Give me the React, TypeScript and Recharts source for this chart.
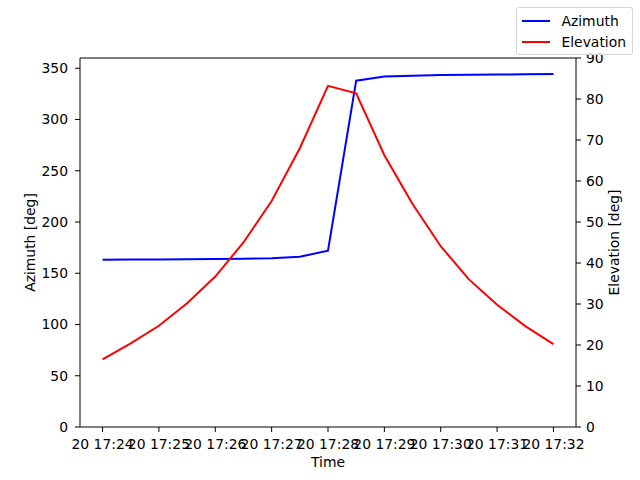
import { LineChart, Line, XAxis, YAxis, Legend, Label, ReferenceLine } from 'recharts';

// samples every 30 s, 17:24:00 .. 17:32:00 on day 20
const times = [
  '17:24:00', '17:24:30', '17:25:00', '17:25:30', '17:26:00', '17:26:30',
  '17:27:00', '17:27:30', '17:28:00', '17:28:30', '17:29:00', '17:29:30',
  '17:30:00', '17:30:30', '17:31:00', '17:31:30', '17:32:00',
];
const azimuth = [
  163.2, 163.3, 163.5, 163.7, 163.9, 164.2, 164.7, 166.1, 172.0,
  337.9, 342.0, 342.7, 343.3, 343.6, 343.9, 344.1, 344.4,
];
const elevation = [
  16.5, 20.4, 24.7, 30.2, 36.7, 45.0, 55.1, 68.0, 83.2,
  81.4, 66.3, 54.4, 44.1, 36.0, 29.8, 24.6, 20.2,
];
const xTickLabels = [
  '20 17:24', '20 17:25', '20 17:26', '20 17:27', '20 17:28',
  '20 17:29', '20 17:30', '20 17:31', '20 17:32',
];
const azTicks = [0, 50, 100, 150, 200, 250, 300, 350];
const elTicks = [0, 10, 20, 30, 40, 50, 60, 70, 80, 90];

const AZ_MAX = 360;
const EL_MAX = 90;

// minutes after 17:24
const toMinutes = (hms: string) => {
  const [h, m, s = '0'] = hms.split(':');
  return (Number(h) - 17) * 60 + Number(m) - 24 + Number(s) / 60;
};

const data = times.map((t, i) => ({ t: toMinutes(t), az: azimuth[i], el: elevation[i] }));
const xTicks = xTickLabels.map((l) => toMinutes(l.split(' ')[1]));

const font = '"DejaVu Sans", sans-serif';
const fs = 13.9;
const tickStyle = { fill: '#000', fontSize: fs, fontFamily: font };
const axisLine = { stroke: '#000', strokeWidth: 1 };
const labelStyle = { fill: '#000', fontSize: fs, fontFamily: font };

const renderLegend = (props: any) => (
  <div
    style={{
      border: '1px solid #d5d5d5',
      borderRadius: 3,
      background: 'rgba(255,255,255,0.8)',
      padding: '2px 6px 2px 5px',
      fontFamily: font,
      fontSize: fs,
      color: '#000',
    }}
  >
    {(props.payload || []).map((p: any) => (
      <div key={p.value} style={{ display: 'flex', alignItems: 'center', height: 21 }}>
        <span style={{ display: 'inline-block', width: 28, height: 2, background: p.color, marginRight: 11 }} />
        <span>{p.value}</span>
      </div>
    ))}
  </div>
);

export default function App() {
  return (
    <div style={{ width: 640, height: 480, background: '#fff' }}>
      <style>{'body{margin:0}'}</style>
      <LineChart width={640} height={480} data={data} margin={{ top: 58, right: 0, bottom: 0, left: 0 }}>
        <XAxis
          dataKey="t"
          type="number"
          domain={[-0.4, 8.4]}
          ticks={xTicks}
          interval={0}
          tickFormatter={(v: number) => xTickLabels[xTicks.indexOf(v)] ?? ''}
          height={53}
          tick={tickStyle}
          tickLine={axisLine}
          axisLine={axisLine}
          tickSize={5}
          tickMargin={7}
        >
          <Label value="Time" position="center" dy={9} style={labelStyle} />
        </XAxis>
        <YAxis
          yAxisId="left"
          domain={[0, AZ_MAX]}
          ticks={azTicks}
          interval={0}
          width={80}
          tick={tickStyle}
          tickLine={axisLine}
          axisLine={axisLine}
          tickSize={5}
          tickMargin={7}
        >
          <Label value="Azimuth [deg]" angle={-90} position="center" dx={-10} style={labelStyle} />
        </YAxis>
        <YAxis
          yAxisId="right"
          orientation="right"
          domain={[0, EL_MAX]}
          ticks={elTicks}
          interval={0}
          width={64}
          tick={tickStyle}
          tickLine={axisLine}
          axisLine={axisLine}
          tickSize={5}
          tickMargin={5}
        >
          <Label value="Elevation [deg]" angle={-90} position="center" dx={6} style={labelStyle} />
        </YAxis>
        <ReferenceLine yAxisId="left" y={AZ_MAX} stroke="#000" strokeWidth={1} />
        <Legend
          layout="vertical"
          align="center"
          verticalAlign="middle"
          content={renderLegend}
          wrapperStyle={{ top: 7, right: 7, left: 'auto', width: 'auto' }}
        />
        <Line yAxisId="left" dataKey="az" name="Azimuth" stroke="#0000ff" strokeWidth={2} dot={false} isAnimationActive={false} />
        <Line yAxisId="right" dataKey="el" name="Elevation" stroke="#ff0000" strokeWidth={2} dot={false} isAnimationActive={false} />
      </LineChart>
    </div>
  );
}
